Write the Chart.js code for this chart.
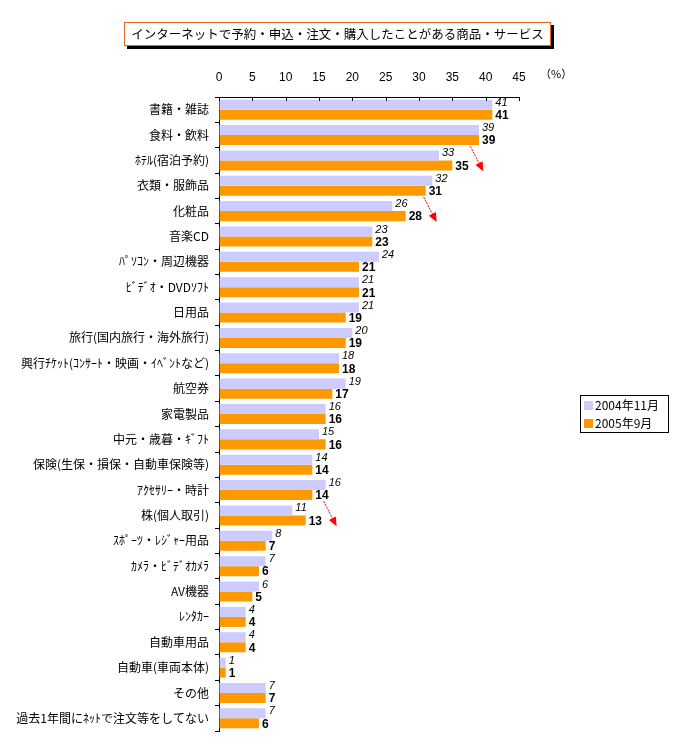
<!DOCTYPE html>
<html>
<head>
<meta charset="utf-8">
<script src="https://cdn.jsdelivr.net/npm/chart.js@4/dist/chart.umd.min.js"></script>
<style>
  body { margin: 0; background: #fff; }
  #wrap { width: 676px; height: 748px; }
</style>
</head>
<body>
<div id="wrap"><canvas id="netChart" width="676" height="748"></canvas></div>
<script>
const titleText = 'インターネットで予約・申込・注文・購入したことがある商品・サービス';
const categories = [
  '書籍・雑誌', '食料・飲料', 'ﾎﾃﾙ(宿泊予約)', '衣類・服飾品', '化粧品', '音楽CD',
  'ﾊﾟｿｺﾝ・周辺機器', 'ﾋﾞﾃﾞｵ・DVDｿﾌﾄ', '日用品', '旅行(国内旅行・海外旅行)',
  '興行ﾁｹｯﾄ(ｺﾝｻｰﾄ・映画・ｲﾍﾞﾝﾄなど)', '航空券', '家電製品', '中元・歳暮・ｷﾞﾌﾄ',
  '保険(生保・損保・自動車保険等)', 'ｱｸｾｻﾘｰ・時計', '株(個人取引)', 'ｽﾎﾟｰﾂ・ﾚｼﾞｬｰ用品',
  'ｶﾒﾗ・ﾋﾞﾃﾞｵｶﾒﾗ', 'AV機器', 'ﾚﾝﾀｶｰ', '自動車用品', '自動車(車両本体)', 'その他',
  '過去1年間にﾈｯﾄで注文等をしてない'
];
const seriesNames = ['2004年11月', '2005年9月'];
const values2004 = [41, 39, 33, 32, 26, 23, 24, 21, 21, 20, 18, 19, 16, 15, 14, 16, 11, 8, 7, 6, 4, 4, 1, 7, 7];
const values2005 = [41, 39, 35, 31, 28, 23, 21, 21, 19, 19, 18, 17, 16, 16, 14, 14, 13, 7, 6, 5, 4, 4, 1, 7, 6];
const xMax = 45;
const xStep = 5;
// rows marked with a red arrow in the original
const arrowRows = [2, 4, 16];

const colors = ['#CCCCFF', '#FF9900'];
const jpFont = '"Noto Sans CJK JP", sans-serif';

// title box, (%) label, inner ticks, value labels, arrows, legend
const decorations = {
  id: 'decorations',
  afterDraw(chart) {
    const ctx = chart.ctx;
    const area = chart.chartArea;
    const xs = chart.scales.x;
    ctx.save();

    // title
    ctx.fillStyle = '#000';
    ctx.fillRect(127, 25, 427, 24);
    ctx.fillStyle = '#fff';
    ctx.fillRect(124, 22, 427, 24);
    ctx.strokeStyle = '#E8641E';
    ctx.lineWidth = 1;
    ctx.strokeRect(124.5, 22.5, 426, 23);
    ctx.fillStyle = '#000';
    ctx.font = '12.5px ' + jpFont;
    ctx.textAlign = 'center';
    ctx.textBaseline = 'middle';
    ctx.fillText(titleText, 337.5, 34.5);

    // (%)
    ctx.font = '11px ' + jpFont;
    ctx.textAlign = 'left';
    ctx.fillText('（%）', 540, 74);

    // ticks on top axis pointing down
    ctx.strokeStyle = '#000';
    ctx.beginPath();
    for (let v = 0; v <= xMax; v += xStep) {
      const px = Math.round(xs.getPixelForValue(v)) + 0.5;
      ctx.moveTo(px, area.top);
      ctx.lineTo(px, area.top + 4);
    }
    ctx.stroke();

    // value labels
    ctx.textBaseline = 'middle';
    ctx.textAlign = 'left';
    chart.data.datasets.forEach((ds, di) => {
      const meta = chart.getDatasetMeta(di);
      ctx.font = di === 0 ? 'italic 11px "Liberation Sans", Arial' : 'bold 12px "Liberation Sans", Arial';
      meta.data.forEach((bar, i) => {
        ctx.fillStyle = '#000';
        ctx.fillText(String(ds.data[i]), bar.x + 3, bar.y + (di === 0 ? -2 : 1));
      });
    });

    // red arrows
    const m1 = chart.getDatasetMeta(1);
    const m0 = chart.getDatasetMeta(0);
    arrowRows.forEach(i => {
      const x0 = m1.data[i].x + 18;
      const y0 = m0.data[i].y - 9;
      const x1 = x0 + 12;
      const y1 = m1.data[i].y + 4;
      ctx.strokeStyle = '#FF0000';
      ctx.lineWidth = 1;
      ctx.setLineDash([2, 1]);
      ctx.beginPath();
      ctx.moveTo(x0, y0);
      ctx.lineTo(x1, y1);
      ctx.stroke();
      ctx.setLineDash([]);
      const ang = Math.atan2(y1 - y0, x1 - x0);
      ctx.fillStyle = '#FF0000';
      ctx.beginPath();
      ctx.moveTo(x1 + 2 * Math.cos(ang), y1 + 2 * Math.sin(ang));
      ctx.lineTo(x1 - 7 * Math.cos(ang) + 4 * Math.sin(ang), y1 - 7 * Math.sin(ang) - 4 * Math.cos(ang));
      ctx.lineTo(x1 - 7 * Math.cos(ang) - 4 * Math.sin(ang), y1 - 7 * Math.sin(ang) + 4 * Math.cos(ang));
      ctx.closePath();
      ctx.fill();
    });

    // legend
    ctx.fillStyle = '#fff';
    ctx.fillRect(580, 395, 88, 37);
    ctx.strokeStyle = '#000';
    ctx.strokeRect(580.5, 395.5, 88, 37);
    ctx.font = '12px ' + jpFont;
    ctx.textBaseline = 'middle';
    seriesNames.forEach((name, k) => {
      const y = 405 + k * 18;
      ctx.fillStyle = colors[k];
      ctx.fillRect(584, y - 4, 9, 9);
      ctx.fillStyle = '#000';
      ctx.fillText(name, 595, y);
    });

    ctx.restore();
  }
};

new Chart(document.getElementById('netChart'), {
  type: 'bar',
  data: {
    labels: categories,
    datasets: [
      { label: seriesNames[0], data: values2004, backgroundColor: colors[0] },
      { label: seriesNames[1], data: values2005, backgroundColor: colors[1] }
    ]
  },
  options: {
    indexAxis: 'y',
    responsive: false,
    animation: false,
    devicePixelRatio: 1,
    layout: { padding: { left: 0, top: 0, right: 157, bottom: 17 } },
    datasets: {
      bar: { barPercentage: 1, categoryPercentage: 0.79 }
    },
    plugins: {
      legend: { display: false },
      tooltip: { enabled: false }
    },
    scales: {
      x: {
        position: 'top',
        min: 0,
        max: xMax,
        grid: { drawOnChartArea: false, drawTicks: false },
        border: { color: '#000', width: 1 },
        afterFit: s => { s.height = 97; },
        ticks: {
          stepSize: xStep,
          padding: 12,
          color: '#000',
          font: { family: '"Liberation Sans", Arial', size: 12 }
        }
      },
      y: {
        grid: { drawOnChartArea: false, tickLength: 4, color: '#000' },
        border: { color: '#000', width: 1 },
        afterFit: s => { s.width = 219; },
        ticks: {
          padding: 6,
          color: '#000',
          autoSkip: false,
          font: { family: '"Noto Sans CJK JP", sans-serif', size: 12 }
        }
      }
    }
  },
  plugins: [decorations]
});
</script>
</body>
</html>
